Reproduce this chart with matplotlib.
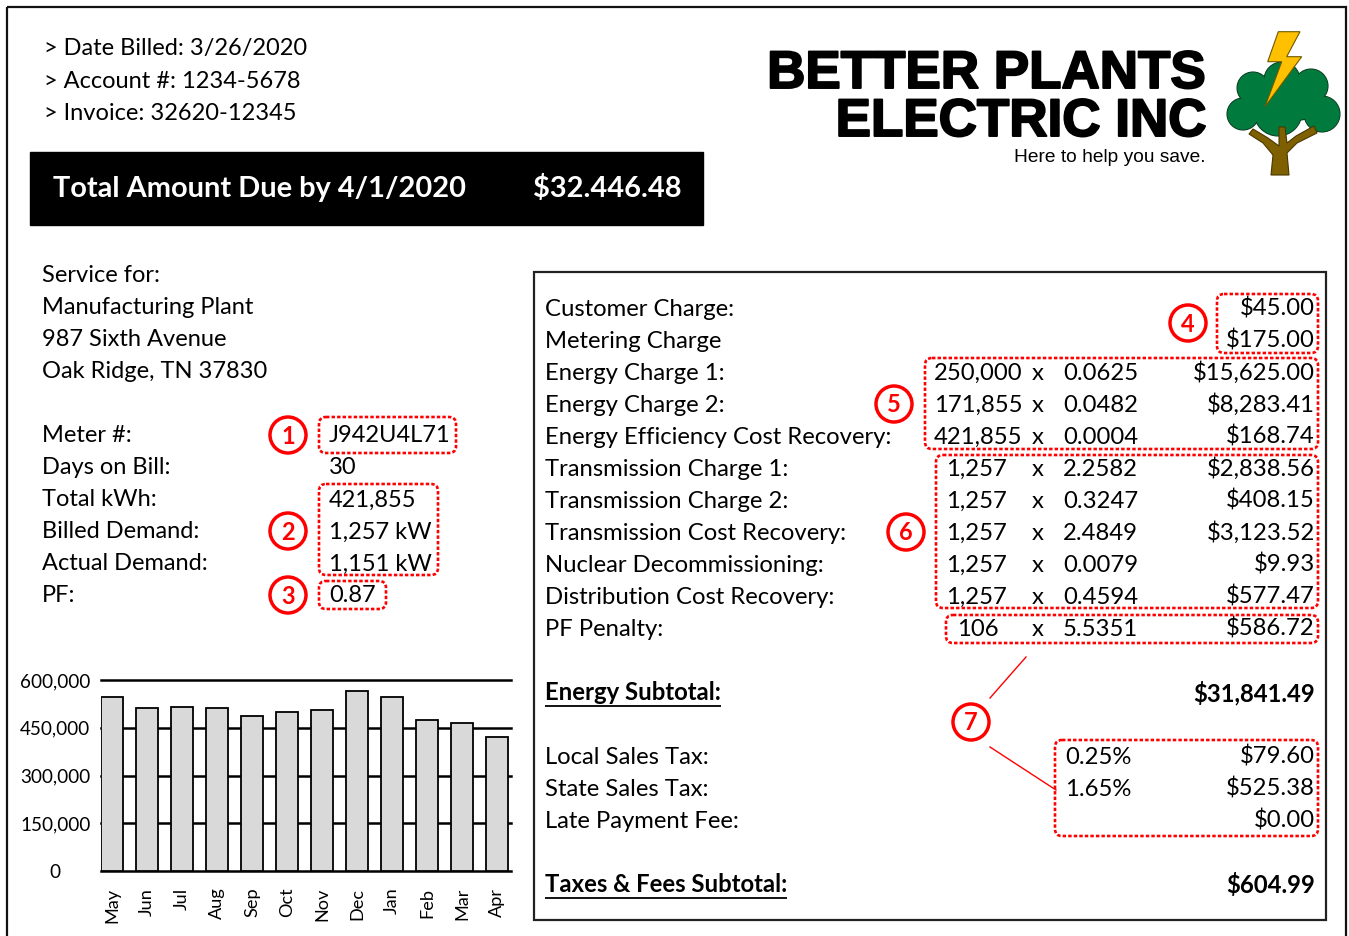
import matplotlib
matplotlib.use('Agg')
import matplotlib.pyplot as plt
from matplotlib.patches import Rectangle, Circle, FancyBboxPatch, Polygon
import matplotlib.patheffects as pe

# ---------------- data ----------------
info_lines = ["> Date Billed: 3/26/2020", "> Account #: 1234-5678", "> Invoice: 32620-12345"]
due_label = "Total Amount Due by 4/1/2020"
due_amount = "$32.446.48"
company_l1 = "BETTER PLANTS"
company_l2 = "ELECTRIC INC"
tagline = "Here to help you save."

service_lines = ["Service for:", "Manufacturing Plant", "987 Sixth Avenue", "Oak Ridge, TN 37830"]
meter_labels = ["Meter #:", "Days on Bill:", "Total kWh:", "Billed Demand:", "Actual Demand:", "PF:"]
meter_values = ["J942U4L71", "30", "421,855", "1,257 kW", "1,151 kW", "0.87"]

charge_labels = ["Customer Charge:", "Metering Charge", "Energy Charge 1:", "Energy Charge 2:",
                 "Energy Efficiency Cost Recovery:", "Transmission Charge 1:", "Transmission Charge 2:",
                 "Transmission Cost Recovery:", "Nuclear Decommissioning:", "Distribution Cost Recovery:",
                 "PF Penalty:"]
charge_qty = ["", "", "250,000", "171,855", "421,855", "1,257", "1,257", "1,257", "1,257", "1,257", "106"]
charge_rate = ["", "", "0.0625", "0.0482", "0.0004", "2.2582", "0.3247", "2.4849", "0.0079", "0.4594", "5.5351"]
charge_amt = ["$45.00", "$175.00", "$15,625.00", "$8,283.41", "$168.74", "$2,838.56", "$408.15",
              "$3,123.52", "$9.93", "$577.47", "$586.72"]
energy_subtotal_label = "Energy Subtotal:"
energy_subtotal = "$31,841.49"
tax_labels = ["Local Sales Tax:", "State Sales Tax:", "Late Payment Fee:"]
tax_rates = ["0.25%", "1.65%", ""]
tax_amts = ["$79.60", "$525.38", "$0.00"]
taxes_subtotal_label = "Taxes & Fees Subtotal:"
taxes_subtotal = "$604.99"

months = ["May", "Jun", "Jul", "Aug", "Sep", "Oct", "Nov", "Dec", "Jan", "Feb", "Mar", "Apr"]
kwh = [547000, 511000, 516000, 511000, 486000, 499000, 506000, 565000, 547000, 475000, 465000, 421855]
kwh_ticks = [0, 150000, 300000, 450000, 600000]

# ---------------- figure ----------------
W, H = 1349, 936
fig = plt.figure(figsize=(W / 100, H / 100), dpi=100)
fig.patch.set_facecolor("white")
ax = fig.add_axes([0, 0, 1, 1])
ax.set_xlim(0, W)
ax.set_ylim(H, 0)
ax.axis("off")
rend = fig.canvas.get_renderer()

BODY = "Lato"
LOGO = "Liberation Sans"
RED = "#FF0000"


def width_px(s, size, **kw):
    t = ax.text(0, 0, s, fontsize=size, **kw)
    w = t.get_window_extent(rend).width
    t.remove()
    return w


def fit(s, target, **kw):
    return 20 * target / width_px(s, 20, **kw)


hdr_fs = fit(info_lines[0], 264, family=BODY)
due_fs = fit(due_label, 413, family=BODY, weight="bold")
left_fs = fit(service_lines[3], 225, family=BODY)
box_fs = fit(charge_labels[4], 348, family=BODY)
logo_fs = fit(company_l1, 438, family=LOGO, weight="bold")
tag_fs = fit(tagline, 191, family=LOGO)

# outer frame
ax.add_patch(Rectangle((7, 7), 1339, 940, fill=False, ec="#111111", lw=1.6, clip_on=False))

# header info
for i, s in enumerate(info_lines):
    ax.text(44, 49 + 32 * i, s, fontsize=hdr_fs, family=BODY, va="center", ha="left")

# black due box
ax.add_patch(Rectangle((30, 152), 673, 73, fc="black", ec="black"))
ax.text(53, 189, due_label, fontsize=due_fs, family=BODY, weight="bold", color="white", va="center")
ax.text(533, 189, due_amount, fontsize=due_fs, family=BODY, weight="bold", color="white", va="center")

# logo text
stroke = [pe.withStroke(linewidth=1.4, foreground="black")]
ax.text(1206, 74, company_l1, fontsize=logo_fs, family=LOGO, weight="bold", ha="right", va="center",
        path_effects=stroke)
ax.text(1206, 122, company_l2, fontsize=logo_fs, family=LOGO, weight="bold", ha="right", va="center",
        path_effects=stroke)
ax.text(1206, 157, tagline, fontsize=tag_fs, family=LOGO, ha="right", va="center")

# tree logo
green = "#007A3D"
lobes = [(1253, 88, 16), (1282, 80, 18), (1311, 86, 17), (1243, 114, 16),
         (1278, 112, 24), (1322, 114, 18), (1300, 102, 18), (1258, 106, 16)]
for (cx, cy, rr) in lobes:
    ax.add_patch(Circle((cx, cy), rr, fc=green, ec="#0B3D20", lw=0.8, zorder=2))
for (cx, cy, rr) in lobes:
    ax.add_patch(Circle((cx, cy), rr - 0.6, fc=green, ec="none", zorder=3))
trunk = [(1271, 175), (1289, 175), (1287, 153), (1297, 143), (1317, 133), (1314, 126), (1296, 136),
         (1287, 143), (1285, 127), (1279, 127), (1279, 146), (1268, 138), (1253, 129), (1249, 134),
         (1263, 143), (1273, 155)]
ax.add_patch(Polygon(trunk, closed=True, fc="#7F6000", ec="#4A3800", lw=0.8, zorder=4))
bolt = [(1278.3, 31.7), (1300, 31.7), (1286.7, 56.7), (1301.7, 56.7), (1265, 106.7),
        (1281.7, 61.7), (1267.7, 61.7)]
ax.add_patch(Polygon(bolt, closed=True, fc="#FFC000", ec="#6B5A00", lw=0.8, zorder=5))

# left service section
for i, s in enumerate(service_lines):
    ax.text(42, 276 + 32 * i, s, fontsize=left_fs, family=BODY, va="center")
for i, (lab, val) in enumerate(zip(meter_labels, meter_values)):
    y = 436 + 32 * i
    ax.text(42, y, lab, fontsize=left_fs, family=BODY, va="center")
    ax.text(329, y, val, fontsize=left_fs, family=BODY, va="center")


def dbox(x0, y0, x1, y1):
    ax.add_patch(FancyBboxPatch((x0, y0), x1 - x0, y1 - y0, boxstyle="round,pad=0,rounding_size=7",
                                fill=False, ec=RED, lw=1.9, ls=(0, (1.3, 0.8)), zorder=6))


def badge(x, y, n):
    ax.add_patch(Circle((x, y), 18, fc="white", ec=RED, lw=2.5, zorder=7))
    ax.text(x, y + 1, n, color=RED, fontsize=17, family=BODY, weight="bold",
            ha="center", va="center", zorder=8)


dbox(319, 417, 456, 453)
dbox(319, 484, 438, 575)
dbox(319, 581, 386, 609)
badge(288, 435, "1")
badge(288, 531, "2")
badge(288, 595, "3")

# right charges box
ax.add_patch(Rectangle((534, 272), 792, 648, fill=False, ec="#222222", lw=1.6))
qty_x = {7: 934, 5: 946, 3: 957}
for i in range(len(charge_labels)):
    y = 309 + 32 * i
    ax.text(545, y, charge_labels[i], fontsize=box_fs, family=BODY, va="center")
    if charge_qty[i]:
        ax.text(qty_x[len(charge_qty[i])], y, charge_qty[i], fontsize=box_fs, family=BODY, va="center")
        ax.text(1038, y, "x", fontsize=box_fs, family=BODY, va="center", ha="center")
        ax.text(1063, y, charge_rate[i], fontsize=box_fs, family=BODY, va="center")
    ax.text(1315, y, charge_amt[i], fontsize=box_fs, family=BODY, va="center", ha="right")


def underlined(x, y, s):
    t = ax.text(x, y, s, fontsize=box_fs, family=BODY, weight="bold", va="center")
    bb = t.get_window_extent(rend).transformed(ax.transData.inverted())
    x0, x1 = sorted([bb.x0, bb.x1])
    ax.plot([x0, x1], [y + 13, y + 13], color="black", lw=1.3, solid_capstyle="butt")


underlined(545, 693, energy_subtotal_label)
ax.text(1315, 693, energy_subtotal, fontsize=box_fs, family=BODY, weight="bold", va="center", ha="right")
for i in range(len(tax_labels)):
    y = 757 + 32 * i
    ax.text(545, y, tax_labels[i], fontsize=box_fs, family=BODY, va="center")
    if tax_rates[i]:
        ax.text(1065, y, tax_rates[i], fontsize=box_fs, family=BODY, va="center")
    ax.text(1315, y, tax_amts[i], fontsize=box_fs, family=BODY, va="center", ha="right")
underlined(545, 885, taxes_subtotal_label)
ax.text(1315, 885, taxes_subtotal, fontsize=box_fs, family=BODY, weight="bold", va="center", ha="right")

dbox(1217, 294, 1318, 353)
dbox(925, 358, 1318, 449)
dbox(936, 455, 1318, 608)
dbox(946, 615, 1318, 643)
dbox(1055, 740, 1318, 836)
badge(1188, 323, "4")
badge(894, 404, "5")
badge(906, 532, "6")
badge(971, 722, "7")
ax.plot([990, 1026], [698, 657], color=RED, lw=1.0)
ax.plot([990, 1056], [747, 790], color=RED, lw=1.0)

# ---------------- bar chart ----------------
bax = fig.add_axes([101 / W, (H - 871) / H, 410 / W, 191 / H])
bax.bar(range(len(months)), kwh, width=0.63, color="#D9D9D9", edgecolor="black", lw=1.3, zorder=3)
bax.set_xlim(-0.315, 11.4)
bax.set_ylim(0, 600000)
bax.set_yticks(kwh_ticks)
tick_fs = fit("600,000", 70, family=BODY)
bax.set_yticklabels([f"{v:,}" for v in kwh_ticks], fontsize=tick_fs, family=BODY, ha="center")
bax.set_xticks(range(len(months)))
month_fs = fit("May", 35, family=BODY)
bax.set_xticklabels(months, rotation=90, fontsize=month_fs, family=BODY)
bax.tick_params(axis="y", length=0, pad=33)
bax.tick_params(axis="x", length=0, pad=12)
bax.yaxis.grid(True, color="black", lw=1.8)
for gl in bax.get_ygridlines():
    gl.set_clip_on(False)
bax.set_axisbelow(True)
for sp in bax.spines.values():
    sp.set_visible(False)
bax.set_facecolor("none")

fig.savefig("out.png", dpi=100, facecolor="white")
